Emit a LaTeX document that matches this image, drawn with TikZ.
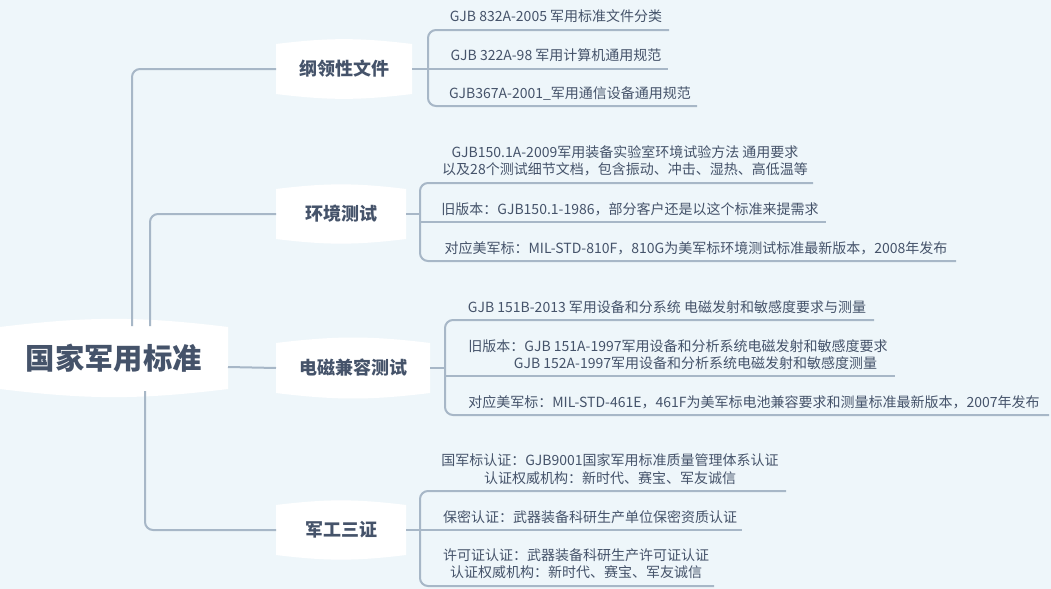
\documentclass[tikz,border=0pt]{standalone}
\usepackage{fontspec}
\setmainfont{Noto Sans CJK SC}
\usetikzlibrary{calc}
\definecolor{bg}{HTML}{EEF6FA}
\definecolor{tx}{HTML}{45536A}
\definecolor{ln}{HTML}{A7B7C7}
\tikzset{
 x=0.75pt,y=-0.75pt,
 conn/.style={draw=ln,line width=1.5pt,rounded corners=6pt},
 leaf/.style={text=tx,font=\fontsize{10.5}{13}\selectfont,align=center,inner sep=0pt},
 branch/.style={text=tx,font=\fontsize{13.5}{16}\selectfont\bfseries,inner sep=0pt},
 rootn/.style={text=tx,font=\fontsize{22}{26}\selectfont\bfseries,inner sep=0pt},
}
\newcommand{\blob}[4]{% cx cy w h
 \fill[white] ($(#1,#2)+(-#3/2,-#4/2)$) to[bend left=7] ($(#1,#2)+(#3/2,-#4/2)$)
   -- ($(#1,#2)+(#3/2,#4/2)$) to[bend left=7] ($(#1,#2)+(-#3/2,#4/2)$) -- cycle;}
\begin{document}
\begin{tikzpicture}
\fill[bg] (0,0) rectangle (1051,589);
\useasboundingbox (0,0) rectangle (1051,589);
% shapes
\blob{114}{358}{228}{62}
\blob{344}{69}{136}{50}
\blob{341}{214}{130}{50}
\blob{353}{368}{154}{50}
\blob{341}{530}{130}{50}
% nodes
\node[rootn] (root) at (114,358) {国家军用标准};
\node[branch] (b1) at (344,69) {纲领性文件};
\node[branch] (b2) at (341,214) {环境测试};
\node[branch] (b3) at (353,368) {电磁兼容测试};
\node[branch] (b4) at (341,530) {军工三证};
\coordinate (r1) at (132,326);
\coordinate (r2) at (150,326);
\coordinate (r3) at (228,367);
\coordinate (r4) at (145,391);
\coordinate (b1w) at (276,69);
\coordinate (b2w) at (276,214);
\coordinate (b3w) at (276,368);
\coordinate (b4w) at (276,530);
\draw[conn] (r1) |- (b1w);
\draw[conn] (r2) |- (b2w);
\draw[conn] (r3) -- (b3w);
\draw[conn] (r4) |- (b4w);
% branch 1
\coordinate (k1) at (428,69);
\draw[conn] (412,69) -- (k1);
\draw[conn] (669,30) -- (428,30) -- (428,106) -- (697,106);
\draw[conn] (k1) -- (668,69);
\node[leaf] (l11) at (556,16) {GJB 832A-2005 军用标准文件分类};
\node[leaf] (l12) at (556,55) {GJB 322A-98 军用计算机通用规范};
\node[leaf] (l13) at (570,94) {GJB367A-2001\_军用通信设备通用规范};
% branch 2
\coordinate (k2) at (420,214);
\draw[conn] (406,214) -- (k2);
\draw[conn] (813,183) -- (420,183) -- (420,261) -- (956,261);
\draw[conn] (420,222) -- (826,222);
\node[leaf] (l21) at (625,161) {GJB150.1A-2009军用装备实验室环境试验方法 通用要求\\以及28个测试细节文档，包含振动、冲击、湿热、高低温等};
\node[leaf] (l22) at (630,209) {旧版本：GJB150.1-1986，部分客户还是以这个标准来提需求};
\node[leaf] (l23) at (696,248) {对应美军标：MIL-STD-810F，810G为美军标环境测试标准最新版本，2008年发布};
% branch 3
\coordinate (k3) at (445,368);
\draw[conn] (430,368) -- (k3);
\draw[conn] (874,320) -- (445,320) -- (445,415) -- (1049,415);
\draw[conn] (445,376) -- (895,376);
\node[leaf] (l31) at (667,307) {GJB 151B-2013 军用设备和分系统 电磁发射和敏感度要求与测量};
\node[leaf] (l32) at (678,355) {旧版本：GJB 151A-1997军用设备和分析系统电磁发射和敏感度要求\\\hspace*{2.5em}GJB 152A-1997军用设备和分析系统电磁发射和敏感度测量};
\node[leaf] (l33) at (754,402) {对应美军标：MIL-STD-461E，461F为美军标电池兼容要求和测量标准最新版本，2007年发布};
% branch 4
\coordinate (k4) at (420,530);
\draw[conn] (406,530) -- (k4);
\draw[conn] (786,491) -- (420,491) -- (420,586) -- (714,586);
\draw[conn] (k4) -- (742,530);
\node[leaf] (l41) at (610,469) {国军标认证：GJB9001国家军用标准质量管理体系认证\\认证权威机构：新时代、赛宝、军友诚信};
\node[leaf] (l42) at (590,517) {保密认证：武器装备科研生产单位保密资质认证};
\node[leaf] (l43) at (576,564) {许可证认证：武器装备科研生产许可证认证\\认证权威机构：新时代、赛宝、军友诚信};
\end{tikzpicture}
\end{document}
